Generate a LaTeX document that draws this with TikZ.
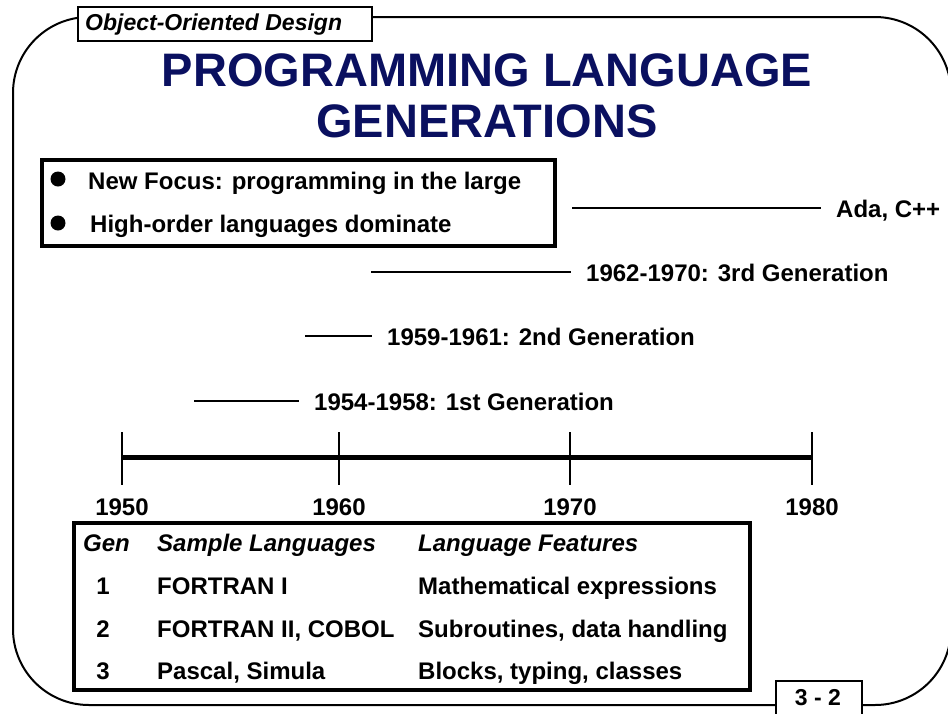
\documentclass[tikz,border=0pt]{standalone}
\usepackage{fontspec}
\setmainfont{Liberation Sans}
\usetikzlibrary{positioning}
\definecolor{titleblue}{RGB}{10,16,96}

\begin{document}
\begin{tikzpicture}[x=1pt,y=-1pt,
    txt/.style={anchor=base west,inner sep=0pt,font=\fontsize{24}{28}\selectfont\bfseries},
    year/.style={anchor=base,inner sep=0pt,font=\fontsize{24}{28}\selectfont\bfseries},
    head/.style={anchor=base west,inner sep=0pt,font=\fontsize{24}{28}\selectfont\bfseries\itshape},
    ttl/.style={anchor=base,inner sep=0pt,text=titleblue,font=\fontsize{47}{52}\selectfont\bfseries},
    dot/.style={shape=circle,fill=black,inner sep=0pt,minimum size=15pt},
    gen/.style={line width=2pt,shorten >=15pt},
    tick/.style={line width=2pt}]
    \useasboundingbox (0,0) rectangle (948,713);
    % frame
    \draw[line width=2pt,rounded corners=76pt] (13,17) rectangle (951,705);
    \node[draw=black,fill=white,line width=2pt,minimum width=294pt,minimum height=34pt,anchor=north west] (hdr) at (77,6) {};
    \node[head,font=\fontsize{23}{26}\selectfont\bfseries\itshape] (hdrtxt) at (85,30) {Object-Oriented Design};
    \node[draw=black,fill=white,line width=2pt,minimum width=86pt,minimum height=38pt,anchor=north west] (pg) at (775,680) {};
    \node[year,font=\fontsize{23}{26}\selectfont\bfseries] (pgtxt) at (818,705) {3 - 2};
    % title
    \node[ttl] (t1) at (487,86) {PROGRAMMING LANGUAGE};
    \node[ttl] (t2) at (487,137) {GENERATIONS};
    % focus box
    \draw[line width=4.5pt] (42,160) rectangle (555,246);
    \node[dot] (b1) at (58,179) {};
    \node[dot] (b2) at (58,223) {};
    \node[txt] (f1) at (88,189) {New Focus: programming in the large};
    \node[txt] (f2) at (90,232) {High-order languages dominate};
    % generations
    \coordinate (ada0) at (572,208);
    \node[txt] (ada) at (836,217) {Ada, C++};
    \draw[gen] (ada0) -- (ada0 -| ada.west);
    \coordinate (g30) at (371,272);
    \node[txt] (g3) at (586,281) {1962-1970: 3rd Generation};
    \draw[gen] (g30) -- (g30 -| g3.west);
    \coordinate (g20) at (305,336);
    \node[txt] (g2) at (387,345) {1959-1961: 2nd Generation};
    \draw[gen] (g20) -- (g20 -| g2.west);
    \coordinate (g10) at (194,401);
    \node[txt] (g1) at (314,410) {1954-1958: 1st Generation};
    \draw[gen] (g10) -- (g10 -| g1.west);
    % time line
    \coordinate (y50) at (122,457);
    \coordinate (y60) at (339,457);
    \coordinate (y70) at (570,457);
    \coordinate (y80) at (812,457);
    \draw[line width=5pt] (y50) -- (y80);
    \foreach \yr/\lab in {y50/1950,y60/1960,y70/1970,y80/1980}{
        \draw[tick] ([yshift=25pt]\yr) -- ([yshift=-28pt]\yr);
        \node[year] (l\yr) at ([yshift=-58pt]\yr) {\lab};
    }
    % table
    \draw[line width=4.5pt] (74,523) rectangle (750,690);
    \node[head] (hgen) at (83,551) {Gen};
    \node[head] (hsmp) at (157,551) {Sample Languages};
    \node[head] (hfea) at (418,551) {Language Features};
    \node[year] (n1) at (103,594) {1};
    \node[txt] (s1) at (157,594) {FORTRAN I};
    \node[txt] (e1) at (418,594) {Mathematical expressions};
    \node[year] (n2) at (103,637) {2};
    \node[txt] (s2) at (157,637) {FORTRAN II, COBOL};
    \node[txt] (e2) at (418,637) {Subroutines, data handling};
    \node[year] (n3) at (103,679) {3};
    \node[txt] (s3) at (157,679) {Pascal, Simula};
    \node[txt] (e3) at (418,679) {Blocks, typing, classes};
\end{tikzpicture}
\end{document}
